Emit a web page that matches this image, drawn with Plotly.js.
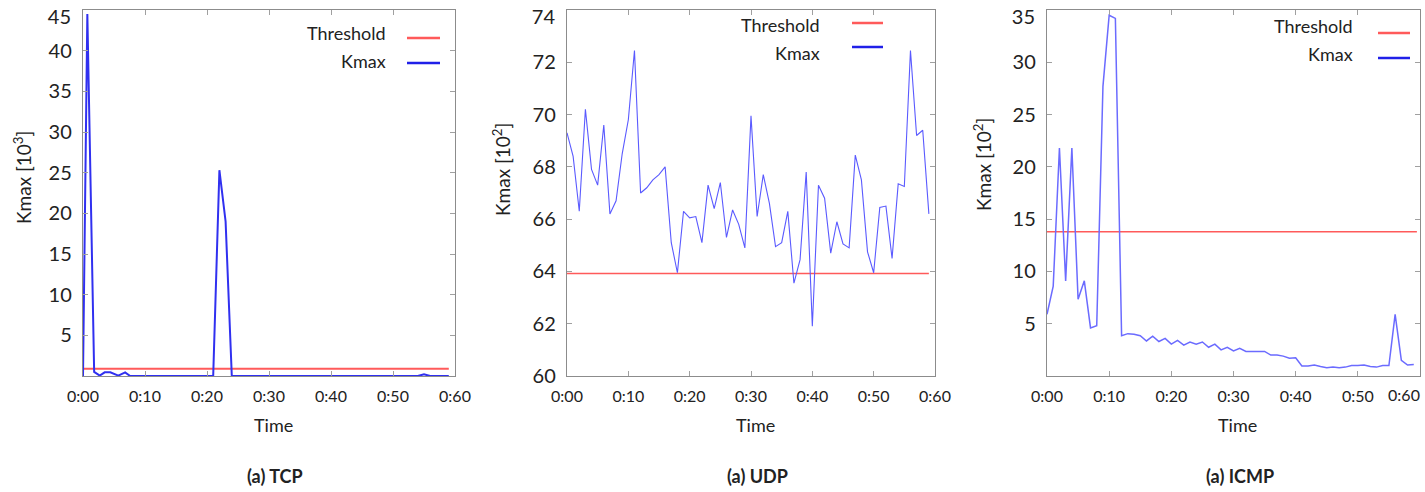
<!DOCTYPE html>
<html>
<head>
<meta charset="utf-8">
<script src="https://cdn.plot.ly/plotly-3.0.1.min.js"></script>
<style>html,body{margin:0;padding:0;background:#fff;}#chart{width:1425px;height:492px;}</style>
</head>
<body>
<div id="chart"></div>
<script>
// ---- Data ----
const tickMinutes = [0, 10, 20, 30, 40, 50, 60];
const tickLabels = ["0:00", "0:10", "0:20", "0:30", "0:40", "0:50", "0:60"];

// TCP (Kmax in 10^3)
const tcpTime = [0, 0.7, 1.8, 2.7, 3.5, 4.4, 5.7, 6.8, 7.6, 21, 22, 23, 24, 54, 55, 56, 59];
const tcpKmax = [0, 44.5, 0.5, 0.05, 0.45, 0.45, 0.05, 0.45, 0, 0, 25.3, 19, 0, 0, 0.2, 0, 0];
const tcpThresholdTime = [0, 59];
const tcpThreshold = [0.9, 0.9];

// UDP (Kmax in 10^2)
const udpTime = [0,1,2,3,4,5,6,7,8,9,10,11,12,13,14,15,16,17,18,19,20,21,22,23,24,25,26,27,28,29,30,31,32,33,34,35,36,37,38,39,40,41,42,43,44,45,46,47,48,49,50,51,52,53,54,55,56,57,58,59];
const udpKmax = [69.3,68.4,66.3,70.2,67.9,67.3,69.6,66.2,66.7,68.5,69.8,72.45,67.0,67.2,67.5,67.7,68.0,65.1,63.95,66.3,66.05,66.1,65.1,67.3,66.4,67.4,65.3,66.35,65.8,64.9,69.95,66.1,67.7,66.6,64.95,65.1,66.3,63.55,64.45,67.8,61.9,67.3,66.8,64.7,65.9,65.05,64.9,68.45,67.5,64.75,63.95,66.45,66.5,64.5,67.35,67.25,72.45,69.2,69.4,66.2];
const udpThresholdTime = [0, 59];
const udpThreshold = [63.92, 63.92];

// ICMP (Kmax in 10^2)
const icmpTime = [0,1,2,3,4,5,6,7,8,9,10,11,12,13,14,15,16,17,18,19,20,21,22,23,24,25,26,27,28,29,30,31,32,33,34,35,36,37,38,39,40,41,42,43,44,45,46,47,48,49,50,51,52,53,54,55,56,57,58,59];
const icmpKmax = [5.9,8.6,21.8,9.1,21.8,7.35,9.1,4.6,4.8,27.7,34.5,34.2,3.85,4.05,4.0,3.85,3.35,3.8,3.3,3.6,3.05,3.4,2.95,3.25,3.05,3.25,2.75,3.05,2.5,2.75,2.4,2.65,2.35,2.35,2.3,2.35,2.0,2.0,1.9,1.7,1.75,0.95,0.95,1.05,0.9,0.8,0.85,0.8,0.85,1.0,1.0,1.05,0.9,0.85,1.0,1.0,5.9,1.5,1.05,1.1];
const icmpThresholdTime = [0, 59.5];
const icmpThreshold = [13.8, 13.8];

const seriesNames = ["Threshold", "Kmax"];
const panelTitles = ["(a) TCP", "(a) UDP", "(a) ICMP"];
const yTitles = ["Kmax [10<sup>3</sup>]", "Kmax [10<sup>2</sup>]", "Kmax [10<sup>2</sup>]"];
const yTicks = [[5,10,15,20,25,30,35,40,45],[60,62,64,66,68,70,72,74],[5,10,15,20,25,30,35]];
const yRanges = [[0,45],[60,74],[0,35]];

// ---- Styling / layout ----
const W = 1425, H = 492;
const FONT = "Lato, 'Open Sans', sans-serif";
const red = "#ff5a5a";
const blue = ["#3030f0", "#5a5aff", "#6b6bff"];
const blueW = [2, 1.1, 1.5];
const redW = [2, 1.5, 1.5];

const panels = [
  {x0: 83, x1: 455},
  {x0: 567, x1: 935},
  {x0: 1047, x1: 1420}
];
const yTop = 10, yBot = 376;
const px = v => v / W;
const py = v => 1 - v / H;

const traces = [];
const data = [
  [tcpThresholdTime, tcpThreshold, tcpTime, tcpKmax],
  [udpThresholdTime, udpThreshold, udpTime, udpKmax],
  [icmpThresholdTime, icmpThreshold, icmpTime, icmpKmax]
];
data.forEach((d, i) => {
  const s = i === 0 ? "" : String(i + 1);
  traces.push({x: d[0], y: d[1], type: "scatter", mode: "lines", name: seriesNames[0],
    xaxis: "x" + s, yaxis: "y" + s, line: {color: red, width: redW[i]}, showlegend: false});
  traces.push({x: d[2], y: d[3], type: "scatter", mode: "lines", name: seriesNames[1],
    xaxis: "x" + s, yaxis: "y" + s, line: {color: blue[i], width: blueW[i]}, showlegend: false});
});

const layout = {
  width: W, height: H,
  margin: {l: 0, r: 0, t: 0, b: 0},
  paper_bgcolor: "#fff", plot_bgcolor: "#fff",
  font: {family: FONT, color: "#222"},
  showlegend: false,
  annotations: [], shapes: []
};

// legend positions (pixels): text right edge, row y, sample x range
const legends = [
  {tx: 388, ty: [33, 61], sx: [407, 440], sy: [38, 63]},
  {tx: 822, ty: [25, 53], sx: [852, 883], sy: [23, 47]},
  {tx: 1355, ty: [26, 54], sx: [1378, 1410], sy: [33, 58]}
];
const yTitleX = [22, 502, 982];
const yTitleY = [178, 170, 165];

const axBase = {
  showline: true, linecolor: "#8c8c8c", linewidth: 1.2, mirror: "ticks",
  ticks: "inside", ticklen: 5, tickcolor: "#a0a0a0", tickwidth: 1,
  showgrid: false, zeroline: false, fixedrange: true, ticklabeloverflow: "allow"
};
const overlayBase = {
  showline: false, ticks: "", showgrid: false, zeroline: false, fixedrange: true,
  ticklabeloverflow: "allow", tickmode: "array"
};

panels.forEach((p, i) => {
  const s = i === 0 ? "" : String(i + 1);
  const yt = yTicks[i];
  const xv = i === 2 ? tickMinutes.slice(0, 6) : tickMinutes;
  const xt = i === 2 ? tickLabels.slice(0, 6) : tickLabels;
  layout["xaxis" + s] = Object.assign({}, axBase, {
    domain: [px(p.x0), px(p.x1)], anchor: "y" + s, range: [0, 60],
    tickmode: "array", tickvals: xv, ticktext: xt,
    tickfont: {family: FONT, size: 16, color: "#222"}, ticklabelstandoff: 6
  });
  // main y axis: all ticks drawn, labels except the topmost one
  layout["yaxis" + s] = Object.assign({}, axBase, {
    domain: [py(yBot), py(yTop)], anchor: "x" + s, range: yRanges[i],
    tickmode: "array", tickvals: yt, ticktext: yt.map((v, k) => k === yt.length - 1 ? "" : String(v)),
    tickfont: {family: FONT, size: 20, color: "#222"}, ticklabelstandoff: 6
  });
  // overlay y axis carrying only the top label, nudged down so it stays on the page
  const oy = "yaxis" + (4 + i);
  layout[oy] = Object.assign({}, overlayBase, {
    overlaying: "y" + s, anchor: "x" + s, side: "left", range: yRanges[i],
    tickvals: [yt[yt.length - 1]], ticktext: [String(yt[yt.length - 1])],
    tickfont: {family: FONT, size: 20, color: "#222"}, ticklabelstandoff: 11, ticklabelshift: 7
  });
  traces.push({x: [], y: [], type: "scatter", mode: "lines", xaxis: "x" + s, yaxis: "y" + (4 + i),
    showlegend: false, hoverinfo: "skip"});
  const cx = (p.x0 + p.x1) / 2 + 4;
  layout.annotations.push({xref: "paper", yref: "paper", x: px(cx), y: py(425), text: "Time",
    showarrow: false, xanchor: "center", yanchor: "middle", font: {family: FONT, size: 18, color: "#222"}});
  layout.annotations.push({xref: "paper", yref: "paper", x: px(cx + 2), y: py(476), text: "<b>" + panelTitles[i] + "</b>",
    showarrow: false, xanchor: "center", yanchor: "middle", font: {family: FONT, size: 18, color: "#222"}});
  layout.annotations.push({xref: "paper", yref: "paper", x: px(yTitleX[i]), y: py(yTitleY[i]), text: yTitles[i],
    showarrow: false, textangle: -90, xanchor: "center", yanchor: "middle", font: {family: FONT, size: 19, color: "#222"}});
  const L = legends[i];
  seriesNames.forEach((nm, k) => {
    layout.annotations.push({xref: "paper", yref: "paper", x: px(L.tx), y: py(L.ty[k]), text: nm,
      showarrow: false, xanchor: "right", yanchor: "middle", font: {family: FONT, size: 18, color: "#222"}});
    layout.shapes.push({type: "line", xref: "paper", yref: "paper",
      x0: px(L.sx[0]), x1: px(L.sx[1]), y0: py(L.sy[k]), y1: py(L.sy[k]),
      line: {color: k === 0 ? red : "#2020e8", width: 2.5}});
  });
});

// ICMP: last x label nudged left so it stays on the page
layout.xaxis4 = Object.assign({}, overlayBase, {
  overlaying: "x3", anchor: "y3", side: "bottom", range: [0, 60],
  tickvals: [60], ticktext: ["0:60"],
  tickfont: {family: FONT, size: 16, color: "#222"}, ticklabelstandoff: 8, ticklabelshift: -16
});
traces.push({x: [], y: [], type: "scatter", mode: "lines", xaxis: "x4", yaxis: "y3",
  showlegend: false, hoverinfo: "skip"});

Plotly.newPlot("chart", traces, layout, {displayModeBar: false, staticPlot: true});
</script>
</body>
</html>
